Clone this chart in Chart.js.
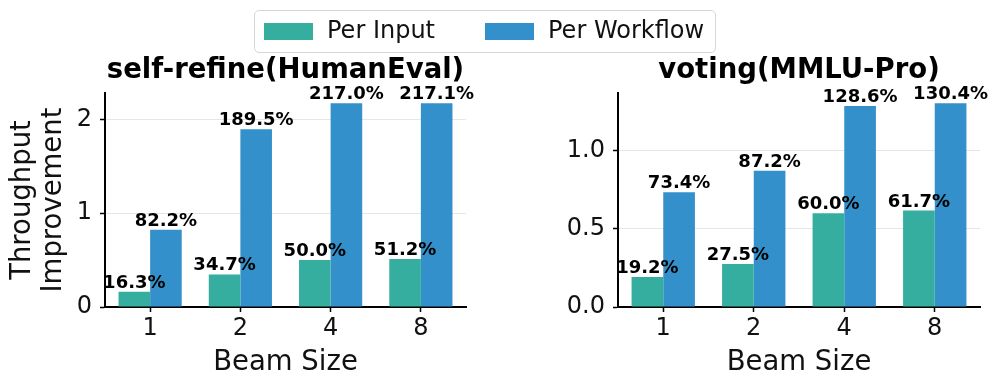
<!DOCTYPE html>
<html>
<head>
<meta charset="utf-8">
<script src="https://cdn.jsdelivr.net/npm/chart.js@4.4.1/dist/chart.umd.min.js"></script>
<style>
    body { margin: 0; background: #fff; width: 997px; height: 390px; position: relative; overflow: hidden; font-family: 'DejaVu Sans', sans-serif; }
    #legend { position: absolute; left: 254px; top: 10px; width: 462px; height: 43px; border: 1px solid #d6d6d6; border-radius: 5px; box-sizing: border-box; }
    .sw { position: absolute; top: 12px; width: 49px; height: 17px; }
    .lt { position: absolute; top: 5px; font-size: 24px; color: #111; white-space: nowrap; }
    .box { position: absolute; top: 50px; height: 340px; }
</style>
</head>
<body>
<div class="box" style="left:0; width:480px;"><canvas id="graficoIzq"></canvas></div>
<div class="box" style="left:500px; width:497px;"><canvas id="graficoDer"></canvas></div>
<div id="legend">
    <div class="sw" style="left:9px; background:#35ae9f;"></div>
    <div class="lt" style="left:72px;">Per Input</div>
    <div class="sw" style="left:230px; background:#3490cb;"></div>
    <div class="lt" style="left:293px;">Per Workflow</div>
</div>
<script>
// datos
const beamSizes = ['1', '2', '4', '8'];
const selfRefinePerInput = [0.163, 0.347, 0.500, 0.512];
const selfRefinePerWorkflow = [0.822, 1.895, 2.170, 2.171];
const votingPerInput = [0.192, 0.275, 0.600, 0.617];
const votingPerWorkflow = [0.734, 0.872, 1.286, 1.304];
const selfRefineTicks = [0, 1, 2];
const votingTicks = [0, 0.5, 1.0];

const colorInput = '#35ae9f';
const colorWorkflow = '#3490cb';
const fuente = "'DejaVu Sans', sans-serif";

// etiquetas de porcentaje encima de cada barra
const etiquetasBarras = {
    id: 'etiquetasBarras',
    afterDatasetsDraw(chart) {
        const ctx = chart.ctx;
        ctx.save();
        ctx.font = 'bold 18px ' + fuente;
        ctx.fillStyle = '#000';
        ctx.textAlign = 'center';
        ctx.textBaseline = 'alphabetic';
        chart.data.datasets.forEach((ds, i) => {
            chart.getDatasetMeta(i).data.forEach((bar, j) => {
                const pct = (Math.round(ds.data[j] * 1000) / 10).toFixed(1) + '%';
                ctx.fillText(pct, bar.x, bar.y - 4);
            });
        });
        ctx.restore();
    }
};

function crearGrafico(id, titulo, perInput, perWorkflow, ticks, yMax, yTitle, yWidth, padRight, decimales) {
    const ctx = document.getElementById(id).getContext('2d');
    return new Chart(ctx, {
        type: 'bar',
        data: {
            labels: beamSizes,
            datasets: [
                { label: 'Per Input', data: perInput, backgroundColor: colorInput, borderWidth: 0, categoryPercentage: 0.7, barPercentage: 1.0 },
                { label: 'Per Workflow', data: perWorkflow, backgroundColor: colorWorkflow, borderWidth: 0, categoryPercentage: 0.7, barPercentage: 1.0 }
            ]
        },
        options: {
            responsive: true,
            maintainAspectRatio: false,
            animation: false,
            layout: { padding: { left: 0, right: padRight, top: 0, bottom: 0 } },
            plugins: {
                legend: { display: false },
                tooltip: { enabled: false },
                title: {
                    display: true,
                    text: titulo,
                    fullSize: false,
                    color: '#000',
                    font: { family: fuente, size: 27.5, weight: 'bold', lineHeight: 1.2 },
                    padding: { top: 4, bottom: 6 }
                }
            },
            scales: {
                x: {
                    grid: { display: true, drawOnChartArea: false, drawTicks: true, tickLength: 5, tickColor: '#000', tickWidth: 1.5, offset: false },
                    border: { display: true, color: '#000', width: 2 },
                    ticks: { color: '#111', padding: 2, font: { family: fuente, size: 24 } },
                    title: { display: true, text: 'Beam Size', color: '#111', font: { family: fuente, size: 27.5, lineHeight: 1.2 }, padding: { top: 0, bottom: 11 } },
                    afterFit: function (scale) { scale.height = 83; }
                },
                y: {
                    min: 0,
                    max: yMax,
                    grid: { display: true, color: '#e6e6e6', lineWidth: 1, drawTicks: true, tickLength: 5, tickColor: '#000', tickWidth: 1.5 },
                    border: { display: true, color: '#000', width: 2 },
                    ticks: {
                        color: '#111',
                        padding: 8,
                        font: { family: fuente, size: 24 },
                        callback: function (value) { return value.toFixed(decimales); }
                    },
                    afterBuildTicks: function (scale) {
                        scale.ticks = ticks.map(v => ({ value: v }));
                    },
                    title: {
                        display: yTitle !== null,
                        text: yTitle || '',
                        color: '#111',
                        font: { family: fuente, size: 27.5, lineHeight: 1.13 },
                        padding: { top: 7, bottom: 0 }
                    },
                    afterFit: function (scale) { scale.width = yWidth; }
                }
            }
        },
        plugins: [etiquetasBarras]
    });
}

crearGrafico('graficoIzq', 'self-refine(HumanEval)', selfRefinePerInput, selfRefinePerWorkflow,
    selfRefineTicks, 2.28, ['Throughput', 'Improvement'], 105, 14, 0);
crearGrafico('graficoDer', 'voting(MMLU-Pro)', votingPerInput, votingPerWorkflow,
    votingTicks, 1.369, null, 118, 17, 1);
</script>
</body>
</html>
